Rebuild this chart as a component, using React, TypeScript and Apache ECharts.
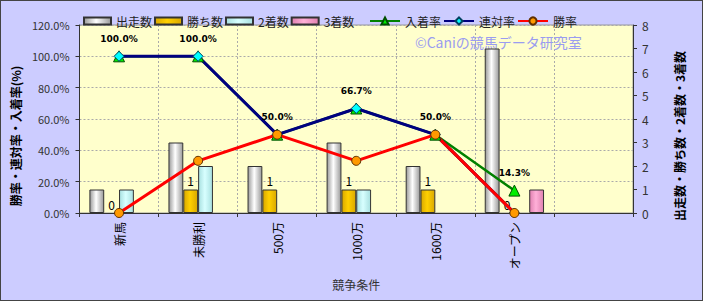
import React, { useEffect, useRef } from "react";
import * as echarts from "echarts";

const categories = ["新馬", "未勝利", "500万", "1000万", "1600万", "オープン", ""];
const starts = [1, 3, 2, 3, 2, 7, null];
const wins = [0, 1, 1, 1, 1, 0, null];
const seconds = [1, 2, 0, 1, 0, 0, null];
const thirds = [0, 0, 0, 0, 0, 1, null];
const placeRate = [100, 100, 50, 66.7, 50, 14.3, null];
const quinellaRate = [100, 100, 50, 66.7, 50, 0, null];
const winRate = [0, 33.3, 50, 33.3, 50, 0, null];
const leftTicks = { min: 0, max: 120, interval: 20 };
const rightTicks = { min: 0, max: 8, interval: 1 };
const barNames = ["出走数", "勝ち数", "2着数", "3着数"];
const lineNames = ["入着率", "連対率", "勝率"];

const FONT = "'Noto Sans CJK JP', 'Noto Sans', sans-serif";

function hGrad(edge: string, mid: string) {
  return new echarts.graphic.LinearGradient(0, 0, 1, 0, [
    { offset: 0, color: edge },
    { offset: 0.45, color: mid },
    { offset: 1, color: edge },
  ]);
}

function hideZero(arr: (number | null)[]) {
  return arr.map((v) => (v === 0 ? { value: 0, itemStyle: { borderWidth: 0, opacity: 0 } } : v));
}

export default function App() {
  const ref = useRef<HTMLDivElement>(null);
  useEffect(() => {
    document.body.style.margin = "0";
    const chart = echarts.init(ref.current!, null, { renderer: "svg" });
    const barBase = {
      type: "bar" as const,
      yAxisIndex: 1,
      barGap: "0%",
      barCategoryGap: "25%",
    };
    const legendText = { fontFamily: FONT, fontSize: 12, color: "#222" };
    chart.setOption({
      animation: false,
      backgroundColor: "#ccccff",
      textStyle: { fontFamily: FONT },
      legend: [
        {
          left: 77,
          top: 9,
          itemWidth: 27,
          itemHeight: 7,
          itemGap: 2,
          icon: "rect",
          textStyle: legendText,
          data: barNames,
        },
        {
          left: 363,
          top: 9,
          itemWidth: 30,
          itemHeight: 9,
          itemGap: 2,
          textStyle: legendText,
          data: lineNames,
        },
      ],
      grid: { left: 76, top: 24, width: 556, height: 188, show: true, backgroundColor: "#ffffcc", borderColor: "#999", borderWidth: 1 },
      graphic: [
        {
          type: "text",
          left: 414,
          top: 34,
          style: { text: "©Caniの競馬データ研究室", fill: "#9a9cf0", font: `14px ${FONT}` },
          z: 1,
        },
      ],
      xAxis: {
        type: "category",
        data: categories,
        name: "競争条件",
        nameLocation: "middle",
        nameGap: 65,
        nameTextStyle: { fontFamily: FONT, fontSize: 12, color: "#333" },
        axisLine: { lineStyle: { color: "#333", width: 1 } },
        axisTick: { show: true, length: 4, lineStyle: { color: "#333" } },
        axisLabel: { rotate: 90, fontFamily: FONT, fontSize: 12, color: "#000", margin: 9, interval: 0 },
        splitLine: { show: true, lineStyle: { color: "#aaa", type: [2, 2] } },
      },
      yAxis: [
        {
          type: "value",
          ...leftTicks,
          name: "勝率・連対率・入着率(%)",
          nameLocation: "middle",
          nameGap: 56,
          nameRotate: 90,
          nameTextStyle: { fontFamily: FONT, fontSize: 12, fontWeight: "bold", color: "#000", padding: [0, 34, 0, 0] },
          axisLine: { show: true, lineStyle: { color: "#333" } },
          axisTick: { show: true, length: 4, lineStyle: { color: "#333" } },
          axisLabel: { formatter: (v: number) => v.toFixed(1) + "%", fontFamily: FONT, fontSize: 11, color: "#333", margin: 10 },
          splitLine: { show: true, lineStyle: { color: "#aaa", type: [2, 2] } },
        },
        {
          type: "value",
          ...rightTicks,
          name: "出走数・勝ち数・2着数・3着数",
          nameLocation: "middle",
          nameGap: 40,
          nameRotate: 90,
          nameTextStyle: { fontFamily: FONT, fontSize: 12, fontWeight: "bold", color: "#000", padding: [0, 34, 0, 0] },
          axisLine: { show: true, lineStyle: { color: "#333" } },
          axisTick: { show: true, length: 4, lineStyle: { color: "#333" } },
          axisLabel: { fontFamily: FONT, fontSize: 12, color: "#333", margin: 9 },
          splitLine: { show: false },
        },
      ],
      series: [
        {
          ...barBase,
          name: "出走数",
          data: hideZero(starts),
          itemStyle: { color: hGrad("#9a9a9a", "#ffffff"), borderColor: "#333", borderWidth: 1 },
        },
        {
          ...barBase,
          name: "勝ち数",
          data: wins.map((v) => (v === 0 ? { value: 0, itemStyle: { borderWidth: 0 } } : v)),
          itemStyle: { color: hGrad("#d9a800", "#ffd000"), borderColor: "#333", borderWidth: 1 },
          label: { show: true, position: "top", distance: 3, fontFamily: FONT, fontSize: 12, color: "#000" },
        },
        {
          ...barBase,
          name: "2着数",
          data: hideZero(seconds),
          itemStyle: { color: hGrad("#a8e0e0", "#d8ffff"), borderColor: "#333", borderWidth: 1 },
        },
        {
          ...barBase,
          name: "3着数",
          data: hideZero(thirds),
          itemStyle: { color: hGrad("#e080b0", "#ffb0d8"), borderColor: "#333", borderWidth: 1 },
        },
        {
          type: "line",
          name: "入着率",
          yAxisIndex: 0,
          data: placeRate,
          symbol: "triangle",
          symbolSize: 11,
          lineStyle: { color: "#008000", width: 2.5 },
          itemStyle: { color: "#00ee00", borderColor: "#005000", borderWidth: 1 },
          label: {
            show: true,
            position: "top",
            distance: 7,
            formatter: (p: any) => Number(p.value).toFixed(1) + "%",
            fontFamily: "'DejaVu Sans', sans-serif",
            fontSize: 9,
            fontWeight: "bold",
            color: "#000",
          },
        },
        {
          type: "line",
          name: "連対率",
          yAxisIndex: 0,
          data: quinellaRate,
          symbol: "diamond",
          symbolSize: 10,
          lineStyle: { color: "#000080", width: 3 },
          itemStyle: { color: "#00ffff", borderColor: "#004060", borderWidth: 1 },
        },
        {
          type: "line",
          name: "勝率",
          yAxisIndex: 0,
          data: winRate,
          symbol: "circle",
          symbolSize: 9,
          lineStyle: { color: "#ff0000", width: 3 },
          itemStyle: { color: "#ff9900", borderColor: "#603000", borderWidth: 1 },
        },
      ],
    });
    return () => chart.dispose();
  }, []);
  return (
    <div style={{ width: 703, height: 301, boxSizing: "border-box", border: "1px solid #444" }}>
      <div ref={ref} style={{ width: 701, height: 299 }} />
    </div>
  );
}
